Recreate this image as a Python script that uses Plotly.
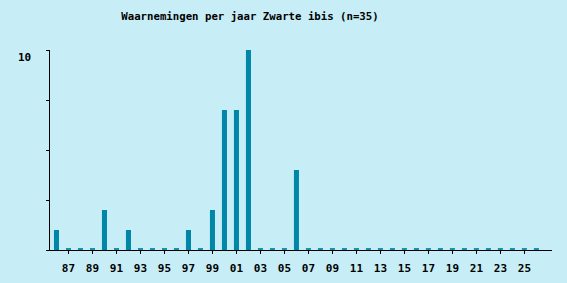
import plotly.graph_objects as go
import numpy as np

years = list(range(1986, 2027))
counts = [1, 0, 0, 0, 2, 0, 1, 0, 0, 0, 0, 1, 0, 2, 7, 7, 10, 0, 0, 0, 4,
          0, 0, 0, 0, 0, 0, 0, 0, 0, 0, 0, 0, 0, 0, 0, 0, 0, 0, 0, 0]
tick_years = list(range(1987, 2026, 2))
tick_labels = [f"{y % 100:02d}" for y in tick_years]
y_ticks = [0, 2.5, 5, 7.5, 10]
y_label_val = 10
title = "Waarnemingen per jaar Zwarte ibis (n=35)"

BG = "#c7eef7"
BAR = "#0087a7"
STUB = "#1890ae"
FONT = "DejaVu Sans Mono"

zero_years = [y for y, c in zip(years, counts) if c == 0]
stub_h = [0.1] * len(zero_years)

fig = go.Figure()
fig.add_trace(go.Bar(x=years, y=counts, width=0.42, marker=dict(color=BAR, line=dict(width=0)),
                     showlegend=False))
fig.add_trace(go.Bar(x=zero_years, y=stub_h, width=0.42, marker=dict(color=STUB, line=dict(width=0)),
                     showlegend=False))

fig.add_annotation(text=str(y_label_val), xref="paper", yref="y", x=0, y=y_label_val,
                   xanchor="right", yanchor="middle", xshift=-17, yshift=-7, showarrow=False,
                   font=dict(family=FONT, size=11, color="black", weight="bold"))

fig.update_layout(
    width=567, height=283,
    paper_bgcolor=BG, plot_bgcolor=BG,
    margin=dict(l=50, r=15, t=50, b=33, pad=0, autoexpand=False),
    barmode="overlay",
    title=dict(text=title, x=250/567, xanchor="center", y=1-16/283, yanchor="middle",
               font=dict(family=FONT, size=10.7, color="black", weight="bold")),
    font=dict(family=FONT, size=11, color="black"),
    xaxis=dict(range=[1985.46, 2027.3], tickvals=tick_years, ticktext=tick_labels,
               ticks="outside", ticklen=3, tickwidth=1, tickcolor="black",
               showline=True, linecolor="black", linewidth=1, showgrid=False, zeroline=False,
               tickfont=dict(family=FONT, size=11, color="black", weight="bold"),
               ticklabelstandoff=5, fixedrange=True, automargin=False),
    yaxis=dict(range=[0, 10], tickvals=y_ticks, showticklabels=False,
               ticks="outside", ticklen=3, tickwidth=1, tickcolor="black",
               showline=True, linecolor="black", linewidth=1, showgrid=False, zeroline=False,
               fixedrange=True, automargin=False),
)

fig.write_html("out.html", config={"displayModeBar": False})
